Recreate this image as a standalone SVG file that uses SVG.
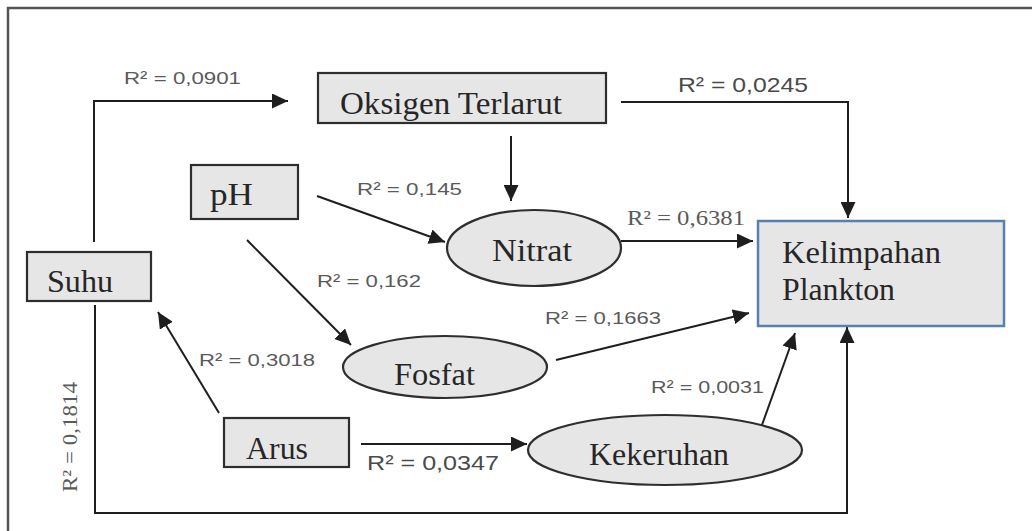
<svg xmlns="http://www.w3.org/2000/svg" width="1032" height="531" viewBox="0 0 1032 531">
  <defs>
    <marker id="arrow" markerUnits="userSpaceOnUse" markerWidth="17" markerHeight="15" refX="16" refY="7.5" orient="auto">
      <path d="M0,0 L16,7.5 L0,15 z" fill="#1e1e1e"/>
    </marker>
    <style>
      .node { fill: #e6e6e6; stroke: #2e2e2e; stroke-width: 2.2; }
      .target { fill: #e6e6e6; stroke: #5580b0; stroke-width: 2.5; }
      .name { font-family: "Liberation Serif", "Times New Roman", serif; font-size: 32px; fill: #262626; }
      .r2 { font-family: "Liberation Sans", Arial, sans-serif; font-size: 17px; fill: #5a5a5a; }
      .r2big { font-family: "Liberation Sans", Arial, sans-serif; font-size: 21px; fill: #4a4a4a; }
      .r2serif { font-family: "Liberation Serif", "Times New Roman", serif; font-size: 22px; fill: #5a5a5a; }
      .link { fill: none; stroke: #1e1e1e; stroke-width: 2; }
      .frame { fill: none; stroke: #555; stroke-width: 2.5; }
    </style>
  </defs>

  <rect width="1032" height="531" fill="#ffffff"/>

  <!-- open frame: top and left edges -->
  <path class="frame" d="M8,531 L8,8 L1032,8"/>

  <!-- connectors -->
  <g id="connectors">
    <path class="link" d="M94,242 L94,101 L288,101" marker-end="url(#arrow)"/>
    <path class="link" d="M621,102 L848,102 L848,218" marker-end="url(#arrow)"/>
    <path class="link" d="M511,136 L511,201" marker-end="url(#arrow)"/>
    <path class="link" d="M317,196 L445,242" marker-end="url(#arrow)"/>
    <path class="link" d="M621,241 L753,241" marker-end="url(#arrow)"/>
    <path class="link" d="M247,240 L351,345" marker-end="url(#arrow)"/>
    <path class="link" d="M556,360 L749,313" marker-end="url(#arrow)"/>
    <path class="link" d="M219,413 L158,312" marker-end="url(#arrow)"/>
    <path class="link" d="M361,444 L527,444" marker-end="url(#arrow)"/>
    <path class="link" d="M762,425 L795,333" marker-end="url(#arrow)"/>
    <path class="link" d="M95,305 L95,513 L847,513 L847,327" marker-end="url(#arrow)"/>
  </g>

  <!-- path coefficients -->
  <g id="coefficients">
    <text class="r2" x="124" y="84" textLength="117" lengthAdjust="spacingAndGlyphs">R² = 0,0901</text>
    <text class="r2big" x="678" y="92" textLength="130" lengthAdjust="spacingAndGlyphs">R² = 0,0245</text>
    <text class="r2" x="357" y="195" textLength="105" lengthAdjust="spacingAndGlyphs">R² = 0,145</text>
    <text class="r2serif" x="627" y="225" textLength="118" lengthAdjust="spacingAndGlyphs">R² = 0,6381</text>
    <text class="r2" x="317" y="287" textLength="104" lengthAdjust="spacingAndGlyphs">R² = 0,162</text>
    <text class="r2" x="545" y="324" textLength="116" lengthAdjust="spacingAndGlyphs">R² = 0,1663</text>
    <text class="r2" x="199" y="366" textLength="116" lengthAdjust="spacingAndGlyphs">R² = 0,3018</text>
    <text class="r2" x="651" y="393" textLength="113" lengthAdjust="spacingAndGlyphs">R² = 0,0031</text>
    <text class="r2big" x="367" y="470" textLength="132" lengthAdjust="spacingAndGlyphs">R² = 0,0347</text>
    <text class="r2serif" transform="translate(77,492) rotate(-90)" x="0" y="0" textLength="110" lengthAdjust="spacingAndGlyphs">R² = 0,1814</text>
  </g>

  <g id="oksigen">
    <rect class="node" x="318" y="73" width="288" height="50"/>
    <text class="name" x="340" y="114" textLength="222" lengthAdjust="spacingAndGlyphs">Oksigen Terlarut</text>
  </g>

  <g id="ph">
    <rect class="node" x="191" y="165" width="107" height="54"/>
    <text class="name" x="210" y="205" textLength="43" lengthAdjust="spacingAndGlyphs">pH</text>
  </g>

  <g id="suhu">
    <rect class="node" x="27" y="252" width="124" height="49"/>
    <text class="name" x="47" y="292" textLength="66" lengthAdjust="spacingAndGlyphs">Suhu</text>
  </g>

  <g id="nitrat">
    <ellipse class="node" cx="534" cy="248" rx="87" ry="38"/>
    <text class="name" x="492" y="261" textLength="80" lengthAdjust="spacingAndGlyphs">Nitrat</text>
  </g>

  <g id="fosfat">
    <ellipse class="node" cx="445" cy="367" rx="102" ry="31"/>
    <text class="name" x="394" y="385" textLength="81" lengthAdjust="spacingAndGlyphs">Fosfat</text>
  </g>

  <g id="arus">
    <rect class="node" x="224" y="418" width="125" height="49"/>
    <text class="name" x="246" y="459" textLength="62" lengthAdjust="spacingAndGlyphs">Arus</text>
  </g>

  <g id="kekeruhan">
    <ellipse class="node" cx="665" cy="450" rx="137" ry="35"/>
    <text class="name" x="589" y="465" textLength="140" lengthAdjust="spacingAndGlyphs">Kekeruhan</text>
  </g>

  <g id="kelimpahan">
    <rect class="target" x="758" y="221" width="246" height="105"/>
    <text class="name" x="782" y="263" textLength="159" lengthAdjust="spacingAndGlyphs">Kelimpahan</text>
    <text class="name" x="782" y="300" textLength="113" lengthAdjust="spacingAndGlyphs">Plankton</text>
  </g>
</svg>
